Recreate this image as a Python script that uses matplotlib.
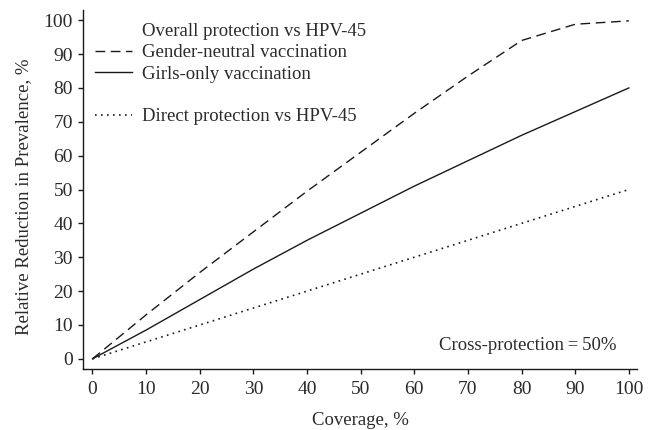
import matplotlib
matplotlib.use("Agg")
import matplotlib.pyplot as plt
from matplotlib.lines import Line2D

plt.rcParams['font.family'] = ['Liberation Serif', 'DejaVu Serif']

coverage = [0, 10, 20, 30, 40, 50, 60, 70, 80, 90, 100]
gender_neutral = [0, 13, 25.5, 37.5, 49.5, 61, 72.5, 83.5, 94, 98.8, 99.8]
girls_only = [0, 8.5, 17.5, 26.5, 35, 43, 51, 58.5, 66, 73, 80]
direct = [0, 5, 10, 15, 20, 25, 30, 35, 40, 45, 50]

x_ticks = [0, 10, 20, 30, 40, 50, 60, 70, 80, 90, 100]
y_ticks = [0, 10, 20, 30, 40, 50, 60, 70, 80, 90, 100]

txt = '#2b2b2b'
fs = 13.5

fig = plt.figure(figsize=(6.5, 4.3), dpi=100)
ax = fig.add_axes([0.1277, 0.1419, 0.853, 0.8348])

lw = 1.0
l_gn, = ax.plot(coverage, gender_neutral, color='#1a1a1a', lw=lw, linestyle=(0, (7, 4)))
l_go, = ax.plot(coverage, girls_only, color='#1a1a1a', lw=lw, linestyle='-')
l_d, = ax.plot(coverage, direct, color='#1a1a1a', lw=1.2, linestyle=(0, (1, 2.6)))

ax.set_xlim(-1.77, 101.6)
ax.set_ylim(-3, 103)
ax.set_xticks(x_ticks)
ax.set_yticks(y_ticks)
for s in ['top', 'right']:
    ax.spines[s].set_visible(False)
for s in ['left', 'bottom']:
    ax.spines[s].set_linewidth(1.0)
    ax.spines[s].set_color('#1a1a1a')
ax.tick_params(direction='out', length=3.6, width=1.0, colors='#1a1a1a', labelsize=14)
ax.tick_params(axis='x', pad=5)
ax.tick_params(axis='y', pad=3.6)
for lbl in ax.get_xticklabels() + ax.get_yticklabels():
    lbl.set_color(txt)

ax.set_xlabel('Coverage, %', fontsize=fs, color=txt)
ax.set_ylabel('Relative Reduction in Prevalence, %', fontsize=fs, color=txt)
ax.xaxis.set_label_coords(0.5, -0.12)
ax.yaxis.set_label_coords(-0.092, 0.48)

blank = Line2D([], [], color='none')
leg = ax.legend([blank, l_gn, l_go, blank, l_d],
                ['Overall protection vs HPV-45', 'Gender-neutral vaccination',
                 'Girls-only vaccination', ' ', 'Direct protection vs HPV-45'],
                loc='upper left', bbox_to_anchor=(0.0216, 0.965), frameon=False,
                fontsize=fs, handlelength=2.0, handletextpad=0.5, labelspacing=0.23,
                borderpad=0, borderaxespad=0)
for t in leg.get_texts():
    t.set_color(txt)

ax.text(0.963, 0.065, 'Cross-protection\u2009=\u200950%', transform=ax.transAxes,
        ha='right', va='center', fontsize=fs, color=txt)

fig.savefig('out.png', dpi=100)
